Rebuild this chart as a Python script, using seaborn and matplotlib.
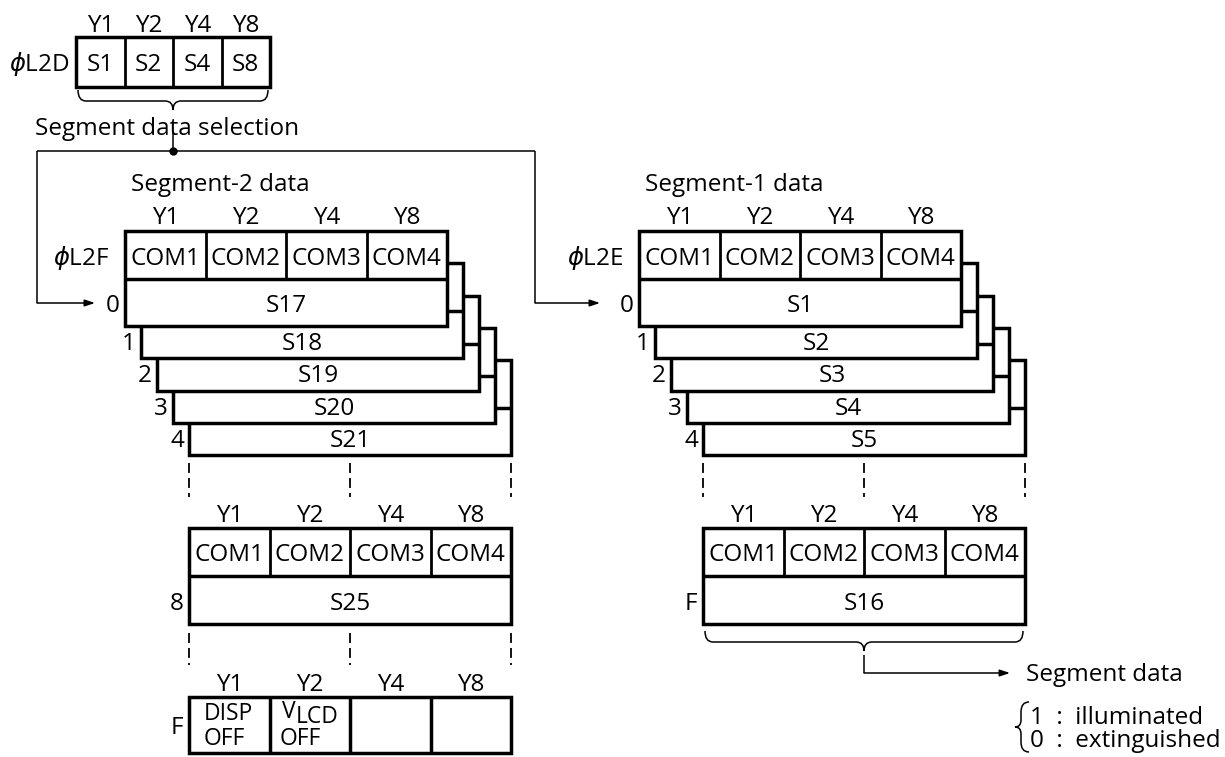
import matplotlib
matplotlib.use("Agg")
import matplotlib.pyplot as plt
import seaborn as sns
from matplotlib.patches import Rectangle, PathPatch
from matplotlib.path import Path

sns.set_theme(style="white")
plt.rcParams["font.family"] = ["Open Sans", "DejaVu Sans"]
plt.rcParams["font.weight"] = 500
plt.rcParams["mathtext.fontset"] = "dejavusans"

# labels of the diagram
BIT_LABELS = ["Y1", "Y2", "Y4", "Y8"]
SELECT_BITS = ["S1", "S2", "S4", "S8"]
COM_LABELS = ["COM1", "COM2", "COM3", "COM4"]
ROW_ADDR = ["0", "1", "2", "3", "4"]
SEG2_ROWS = ["S17", "S18", "S19", "S20", "S21"]
SEG1_ROWS = ["S1", "S2", "S3", "S4", "S5"]
SEG2_LAST = ["8", "S25"]
SEG1_LAST = ["F", "S16"]
FLAG_ADDR = "F"
LEGEND_LINES = ["1  :  illuminated", "0  :  extinguished"]

FS = 17.5        # font size, pt
CAP = 8.7        # half cap height, px
W = 322          # register width, px
H_HEAD = 48
H_ROW = 95
DX, DY = 16, 32.3
LW_BOX, LW_DIV, LW_THIN = 2.5, 2.0, 1.1

fig = plt.figure(figsize=(12.25, 7.57), dpi=100)
ax = fig.add_axes([0, 0, 1, 1])
ax.set_xlim(0, 1225)
ax.set_ylim(757, 0)
ax.axis("off")


def label(x, y, s, ha="center", size=FS, z=60):
    ax.text(x, y + CAP * size / FS, s, ha=ha, va="baseline", fontsize=size,
            color="black", zorder=z)


def rect(x, y, w, h, z, lw=LW_BOX):
    ax.add_patch(Rectangle((x, y), w, h, facecolor="white", edgecolor="black",
                           lw=lw, zorder=z, joinstyle="miter"))


def seg(xs, ys, lw=LW_THIN, z=5, **kw):
    ax.plot(xs, ys, color="black", lw=lw, zorder=z, solid_capstyle="butt", **kw)


def curve(verts, codes):
    ax.add_patch(PathPatch(Path(verts, codes), facecolor="none", edgecolor="black",
                           lw=LW_THIN, zorder=5))


def arrow(x0, y0, x1, y1):
    ax.annotate("", xy=(x1, y1), xytext=(x0, y0),
                arrowprops=dict(arrowstyle="-|>,head_length=0.6,head_width=0.2",
                                mutation_scale=10, lw=LW_THIN, color="black",
                                shrinkA=0, shrinkB=0))


C3 = Path.CURVE3


def hbrace(xl, xr, y0, r=8, depth=18):
    xm = (xl + xr) / 2
    y1, y2 = y0 + depth * 0.55, y0 + depth
    verts = [(xl, y0), (xl, y1), (xl + r, y1), (xm - r, y1), (xm, y1), (xm, y2),
             (xm, y1), (xm + r, y1), (xr - r, y1), (xr, y1), (xr, y0)]
    codes = [Path.MOVETO, C3, C3, Path.LINETO, C3, C3, C3, C3, Path.LINETO, C3, C3]
    curve(verts, codes)


def bit_row(x, y, width):
    for i, b in enumerate(BIT_LABELS):
        label(x + width * (2 * i + 1) / 8, y, b)


def stacked(x0, y0, rows, phi, title):
    label(x0 + 6, y0 - 49, title, ha="left")
    bit_row(x0, y0 - 16, W)
    label(x0 - 15, y0 + 25, phi, ha="right")
    n = len(rows)
    for k in reversed(range(n)):
        x, y = x0 + DX * k, y0 + DY * k
        z = 10 + 4 * (n - k)
        rect(x, y, W, H_ROW, z)
        seg([x, x + W], [y + H_HEAD, y + H_HEAD], lw=LW_BOX, z=z + 1)
        for i in range(1, 4):
            seg([x + W * i / 4] * 2, [y, y + H_HEAD], lw=LW_DIV, z=z + 1)
        ty = y + 72 if k == 0 else y + H_ROW - 17
        label(x + W / 2, ty, rows[k], z=z + 2)
        label(x - 12, ty, ROW_ADDR[k], z=z + 2)
        if k == 0:
            for i, c in enumerate(COM_LABELS):
                label(x + W * (2 * i + 1) / 8, y + 25, c, z=z + 2)
    return x0 + DX * (n - 1)


def dashes(x, y0, y1):
    for xx in (x, x + W / 2, x + W):
        seg([xx, xx], [y0, y1], lw=1.3, linestyle=(0, (5.5, 2.8)))


def last_block(x, y, addr, name):
    bit_row(x, y - 15, W)
    rect(x, y, W, 96, 10)
    seg([x, x + W], [y + H_HEAD, y + H_HEAD], lw=LW_BOX, z=11)
    for i in range(1, 4):
        seg([x + W * i / 4] * 2, [y, y + H_HEAD], lw=LW_DIV, z=11)
    for i, c in enumerate(COM_LABELS):
        label(x + W * (2 * i + 1) / 8, y + 24, c)
    label(x + W / 2, y + 73, name)
    label(x - 12, y + 73, addr)


# selection register
sx, sy, sw = 76, 37, 194
bit_row(sx, 23, sw)
rect(sx, sy, sw, 50, 10)
for i in range(1, 4):
    seg([sx + sw * i / 4] * 2, [sy, sy + 50], lw=LW_DIV, z=11)
for i, s in enumerate(SELECT_BITS):
    label(sx + sw * (2 * i + 1) / 8, 62, s)
label(70, 62, r"$\phi$L2D", ha="right")
hbrace(sx + 2, sx + sw - 2, 90, depth=20)
label(35, 126, "Segment data selection", ha="left")
seg([173, 173], [133, 151])
ax.plot([173], [151], "o", color="black", ms=5, zorder=6)
seg([37, 535], [151, 151])
seg([37, 37], [151, 303])
arrow(37, 303, 95, 303)
seg([535, 535], [151, 303])
arrow(535, 303, 600, 303)

# segment-2 data
x4 = stacked(125, 231, SEG2_ROWS, r"$\phi$L2F", "Segment-2 data")
dashes(x4, 463, 497)
last_block(x4, 528, *SEG2_LAST)
dashes(x4, 633, 665)
bit_row(x4, 682, W)
rect(x4, 697, W, 56, 10)
for i in range(1, 4):
    seg([x4 + W * i / 4] * 2, [697, 753], lw=LW_BOX, z=11)
label(x4 - 12, 725, FLAG_ADDR)
label(x4 + 15, 712, "DISP", ha="left", size=16.5)
label(x4 + 15, 737, "OFF", ha="left", size=16.5)
label(x4 + 93, 710, "V", ha="left", size=16.5)
label(x4 + 107, 715, "LCD", ha="left", size=16.5)
label(x4 + 91, 737, "OFF", ha="left", size=16.5)

# segment-1 data
x4 = stacked(639, 231, SEG1_ROWS, r"$\phi$L2E", "Segment-1 data")
dashes(x4, 463, 497)
last_block(x4, 528, *SEG1_LAST)
hbrace(x4 + 2, x4 + W - 2, 631, depth=20)
xm = x4 + W / 2
seg([xm, xm], [655, 673])
arrow(xm, 673, 1010, 673)
label(1026, 672, "Segment data", ha="left")

# legend brace
verts = [(1029, 702), (1021, 702), (1021, 712), (1021, 720), (1021, 727), (1015, 727),
         (1021, 727), (1021, 734), (1021, 742), (1021, 752), (1029, 752)]
codes = [Path.MOVETO, C3, C3, Path.LINETO, C3, C3, C3, C3, Path.LINETO, C3, C3]
curve(verts, codes)
label(1030, 715, LEGEND_LINES[0], ha="left")
label(1030, 738, LEGEND_LINES[1], ha="left")

fig.savefig("out.png", dpi=100)
